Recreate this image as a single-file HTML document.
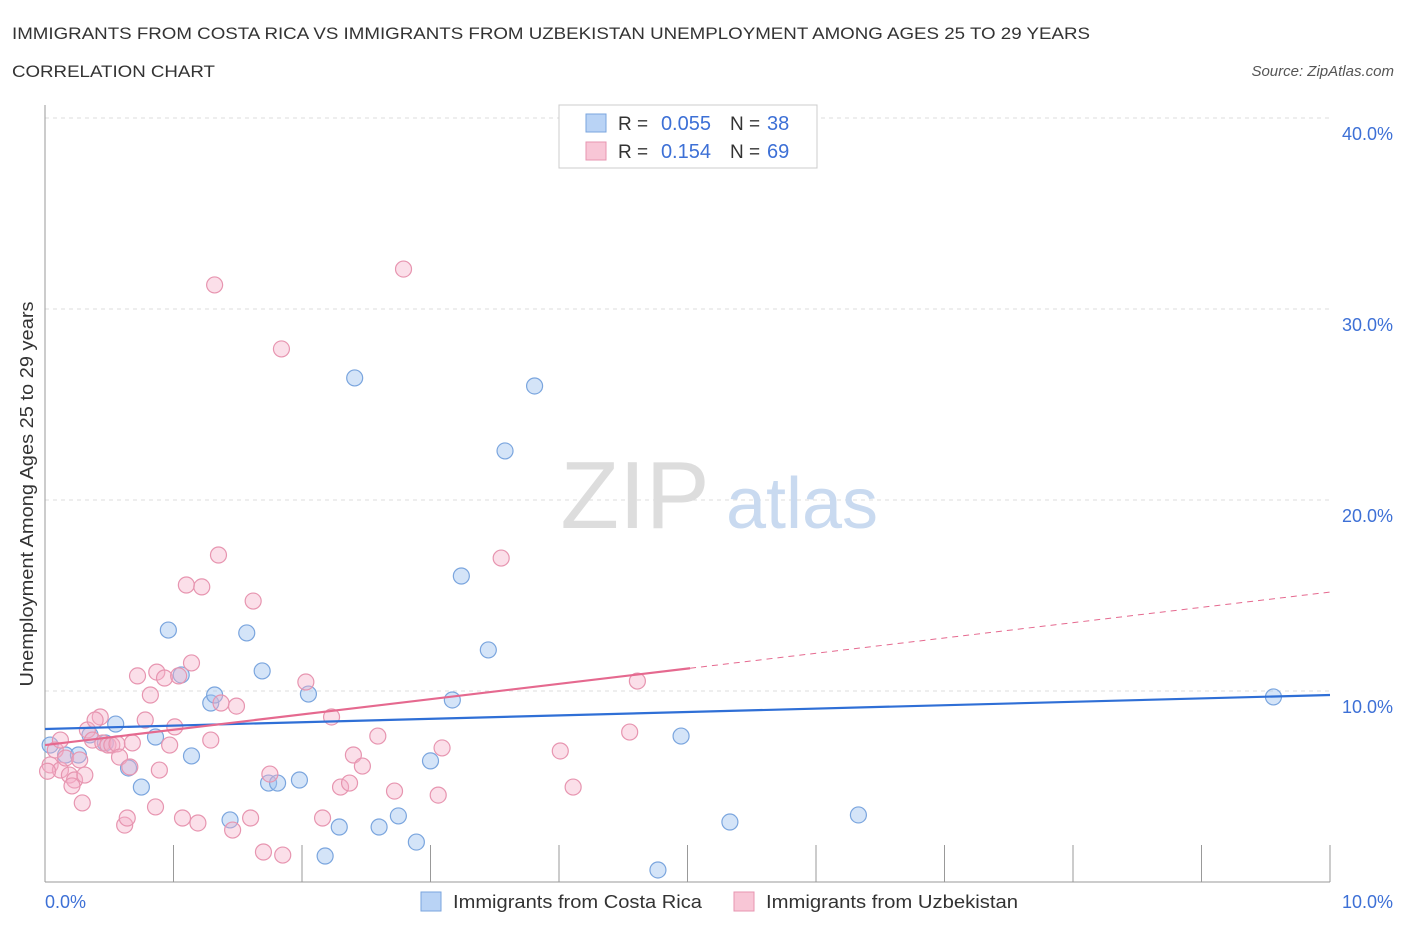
<!DOCTYPE html>
<html><head><meta charset="utf-8"><style>
body{margin:0;background:#fff;font-family:"Liberation Sans",sans-serif}
svg text{font-family:"Liberation Sans",sans-serif}
</style></head><body>
<svg id="chart" width="1406" height="930" xmlns="http://www.w3.org/2000/svg">
<text x="12" y="39" font-size="17" fill="#333" textLength="1078" lengthAdjust="spacingAndGlyphs">IMMIGRANTS FROM COSTA RICA VS IMMIGRANTS FROM UZBEKISTAN UNEMPLOYMENT AMONG AGES 25 TO 29 YEARS</text>
<text x="12" y="77" font-size="17" fill="#333" textLength="203" lengthAdjust="spacingAndGlyphs">CORRELATION CHART</text>
<text x="1394" y="76" font-size="15" fill="#555" text-anchor="end" font-style="italic">Source: ZipAtlas.com</text>
<g id="grid"></g>
<text x="635" y="528" font-size="96" fill="#ddd" font-family="Liberation Serif" text-anchor="middle">ZIP</text>
<text x="802" y="528" font-size="72" fill="#c9daf0" text-anchor="middle">atlas</text>
<g id="marks"></g>
<text transform="translate(33,494) rotate(-90)" font-size="18" fill="#333" text-anchor="middle" textLength="385" lengthAdjust="spacingAndGlyphs">Unemployment Among Ages 25 to 29 years</text>
<g>
<rect x="559" y="105" width="258" height="63" fill="#fff" stroke="#ccc"/>
<rect x="586" y="114" width="20" height="18" fill="#b9d3f5" stroke="#7aa5de"/>
<rect x="586" y="142" width="20" height="18" fill="#f8c6d6" stroke="#e795b0"/>
<text x="618" y="130" font-size="19" fill="#333">R =</text>
<text x="711" y="130" font-size="20" fill="#3d70d6" text-anchor="end">0.055</text>
<text x="730" y="130" font-size="19" fill="#333">N =</text>
<text x="767" y="130" font-size="20" fill="#3d70d6">38</text>
<text x="618" y="158" font-size="19" fill="#333">R =</text>
<text x="711" y="158" font-size="20" fill="#3d70d6" text-anchor="end">0.154</text>
<text x="730" y="158" font-size="19" fill="#333">N =</text>
<text x="767" y="158" font-size="20" fill="#3d70d6">69</text>
</g>
<g>
<rect x="421" y="892" width="20" height="19" fill="#b9d3f5" stroke="#7aa5de"/>
<text x="453" y="908" font-size="18" fill="#333" textLength="249" lengthAdjust="spacingAndGlyphs">Immigrants from Costa Rica</text>
<rect x="734" y="892" width="20" height="19" fill="#f8c6d6" stroke="#e795b0"/>
<text x="766" y="908" font-size="18" fill="#333" textLength="252" lengthAdjust="spacingAndGlyphs">Immigrants from Uzbekistan</text>
</g>
</svg>
<script>
const blueX=[0.04,0.16,0.26,0.35,0.47,0.55,0.65,0.75,0.86,0.96,1.06,1.14,1.29,1.32,1.44,1.57,1.69,1.74,1.81,1.98,2.05,2.18,2.29,2.41,2.60,2.75,2.89,3.00,3.17,3.24,3.45,3.58,3.81,4.77,4.95,5.33,6.33,9.56];
const blueY=[7.17,6.65,6.65,7.70,7.28,8.27,5.97,4.97,7.59,13.19,10.84,6.60,9.37,9.79,3.25,13.04,11.05,5.18,5.18,5.34,9.84,1.36,2.88,26.39,2.88,3.46,2.09,6.34,9.53,16.02,12.15,22.57,25.97,0.63,7.64,3.14,3.51,9.69];
const pinkX=[0.04,0.08,0.12,0.16,0.19,0.23,0.27,0.29,0.31,0.33,0.37,0.43,0.45,0.49,0.52,0.56,0.58,0.62,0.64,0.66,0.68,0.72,0.78,0.82,0.86,0.87,0.89,0.93,0.97,1.01,1.04,1.07,1.10,1.14,1.19,1.22,1.29,1.35,1.37,1.46,1.49,1.60,1.62,1.70,1.75,1.84,1.85,2.03,2.16,2.23,2.30,2.37,2.40,2.47,2.59,2.72,2.79,3.06,3.09,3.55,4.01,4.11,4.55,4.61,1.32,0.12,0.39,0.21,0.02];
const pinkY=[6.13,6.91,5.86,6.49,5.60,5.34,6.39,4.14,5.60,7.96,7.43,8.64,7.28,7.17,7.17,7.23,6.54,2.98,3.35,6.02,7.28,10.79,8.48,9.79,3.93,10.99,5.86,10.68,7.17,8.12,10.79,3.35,15.55,11.47,3.09,15.45,7.43,17.12,9.37,2.72,9.21,3.35,14.71,1.57,5.65,27.91,1.41,10.47,3.35,8.64,4.97,5.18,6.65,6.07,7.64,4.76,32.09,4.55,7.02,16.96,6.86,4.97,7.85,10.52,31.26,7.43,8.48,5.03,5.8];
const blueTrend=[8.01,9.79];
const pinkTrend=[7.17,15.18];
const pinkSolidEnd=5.02;
const yTicks=[10,20,30,40];
const xTickLabels=["0.0%","10.0%"];
const NS="http://www.w3.org/2000/svg";
const X=v=>45+v*128.5, Y=v=>882-v*19.1;
function mk(p,tag,a){const e=document.createElementNS(NS,tag);for(const k in a)e.setAttribute(k,a[k]);p.appendChild(e);return e;}
const g=document.getElementById('grid'), m=document.getElementById('marks');
yTicks.forEach(t=>{
 const l=mk(g,'line',{x1:45,x2:1330,y1:Y(t),y2:Y(t),stroke:'#ddd','stroke-dasharray':'4,4'});
 
 
 const tx=mk(g,'text',{x:1393,y:Y(t)+22,'font-size':18,fill:'#3d70d6','text-anchor':'end'});tx.textContent=t.toFixed(1)+'%';
 
 
});
const ax=mk(g,'line',{x1:45,x2:45,y1:105,y2:882,stroke:'#999'});


const bx=mk(g,'line',{x1:45,x2:1330,y1:882,y2:882,stroke:'#999'});


for(let i=1;i<=10;i++){const t=mk(g,'line',{x1:X(i),x2:X(i),y1:845,y2:882,stroke:'#999'});
 
 }
[[0,'start',45],[10,'end',1393]].forEach((d,i)=>{const t=mk(g,'text',{x:d[2],y:908,'font-size':18,fill:'#3d70d6','text-anchor':d[1]});t.textContent=xTickLabels[i];
 
 });
blueX.forEach((x,i)=>{const c=mk(m,'circle',{cx:X(x),cy:Y(blueY[i]),r:8,fill:'rgba(160,195,240,0.45)',stroke:'#7aa5de','stroke-width':1.2});
 
 });
pinkX.forEach((x,i)=>{const c=mk(m,'circle',{cx:X(x),cy:Y(pinkY[i]),r:8,fill:'rgba(245,175,200,0.4)',stroke:'#e795b0','stroke-width':1.2});
 
 });
const bl=mk(m,'line',{x1:X(0),y1:Y(blueTrend[0]),x2:X(10),y2:Y(blueTrend[1]),stroke:'#2f6fd6','stroke-width':2.2});


const pe=pinkTrend[0]+(pinkTrend[1]-pinkTrend[0])*pinkSolidEnd/10;
const pl=mk(m,'line',{x1:X(0),y1:Y(pinkTrend[0]),x2:X(pinkSolidEnd),y2:Y(pe),stroke:'#e5698f','stroke-width':2.2});


const pd=mk(m,'line',{x1:X(pinkSolidEnd),y1:Y(pe),x2:X(10),y2:Y(pinkTrend[1]),stroke:'#e5698f','stroke-width':1,'stroke-dasharray':'6,5'});


</script>
</body></html>
